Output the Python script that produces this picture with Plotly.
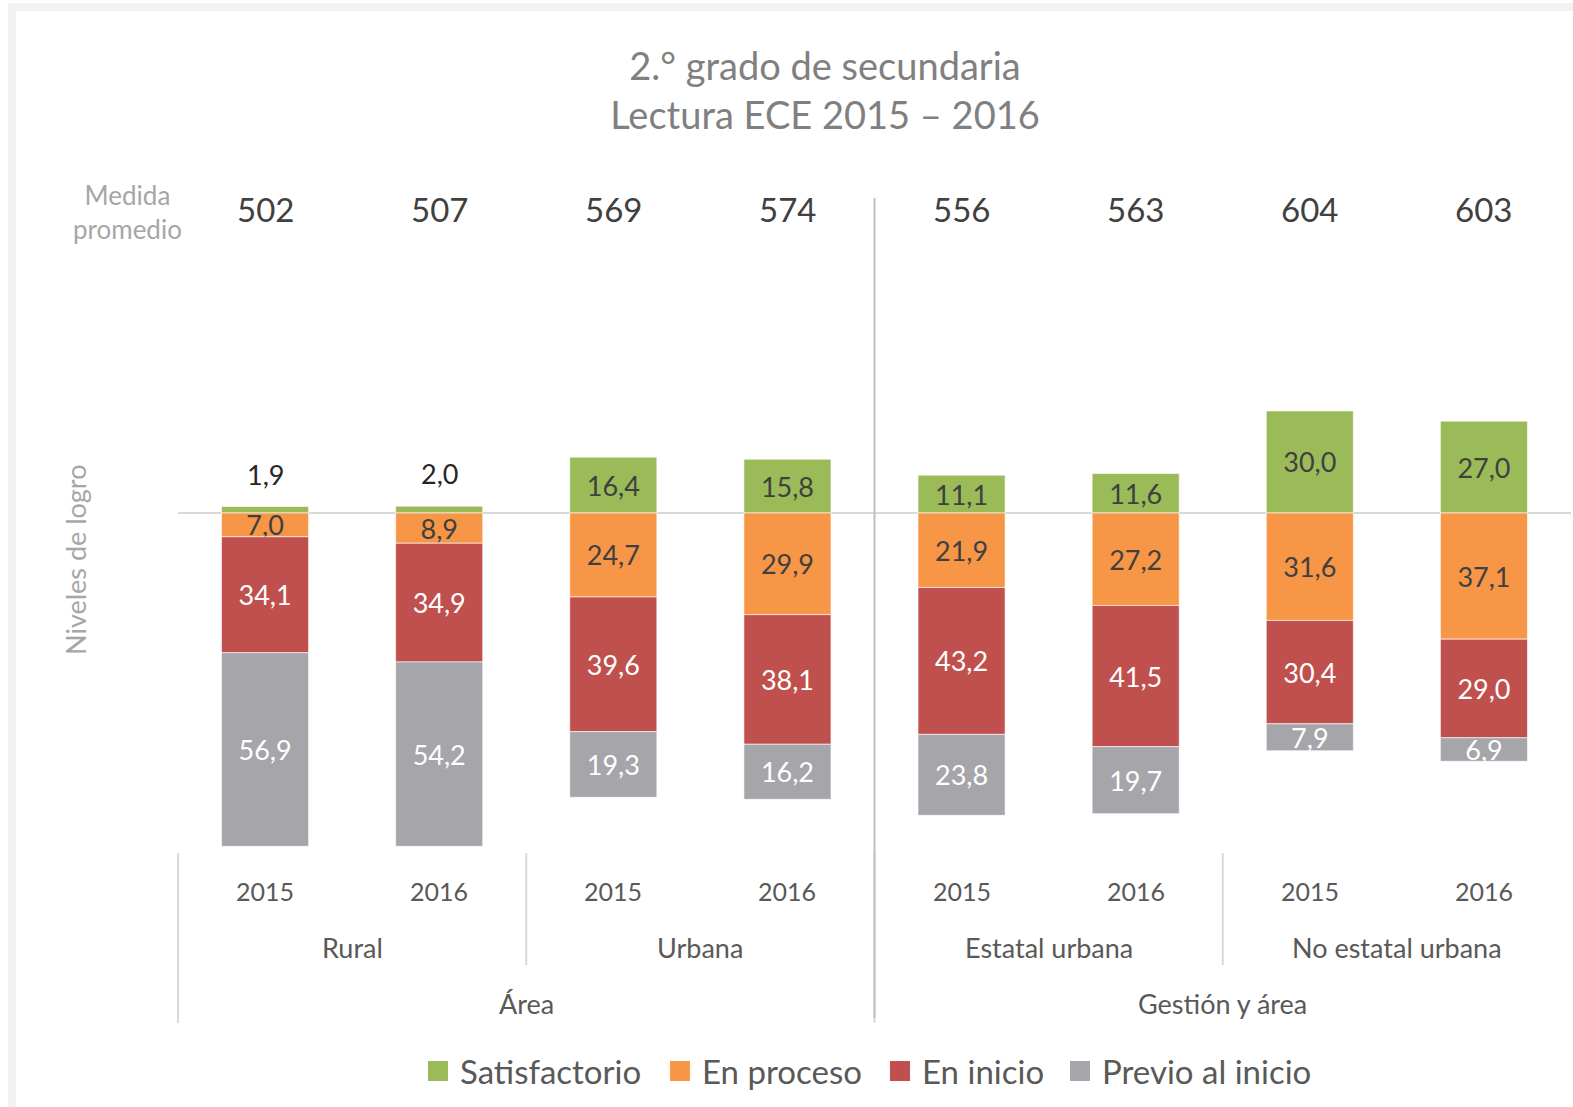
import plotly.graph_objects as go

# ---- data ----
years = ["2015", "2016", "2015", "2016", "2015", "2016", "2015", "2016"]
groups = ["Rural", "Urbana", "Estatal urbana", "No estatal urbana"]
sections = ["Área", "Gestión y área"]
medida_promedio = [502, 507, 569, 574, 556, 563, 604, 603]

satisfactorio = [1.9, 2.0, 16.4, 15.8, 11.1, 11.6, 30.0, 27.0]
en_proceso = [7.0, 8.9, 24.7, 29.9, 21.9, 27.2, 31.6, 37.1]
en_inicio = [34.1, 34.9, 39.6, 38.1, 43.2, 41.5, 30.4, 29.0]
previo = [56.9, 54.2, 19.3, 16.2, 23.8, 19.7, 7.9, 6.9]

series_names = ["Satisfactorio", "En proceso", "En inicio", "Previo al inicio"]
colors = ["#9BBB59", "#F79646", "#C0504D", "#A5A5AA"]
label_colors = ["#404040", "#404040", "#FFFFFF", "#FFFFFF"]

FONT = "Lato"
W, H = 1573, 1107
ML, MR, MT, MB = 178, 2, 198, 259
PW, PH = W - ML - MR, H - MT - MB


def fx(px):
    return (px - ML) / PW


def fy(py):
    return (H - MB - py) / PH


def fmt(v):
    return f"{v:.1f}".replace(".", ",")


x = list(range(len(years)))
fig = go.Figure()

# Satisfactorio stacks upward; the other levels stack downward from zero
values = [satisfactorio, en_proceso, en_inicio, previo]
for i, (name, vals) in enumerate(zip(series_names, values)):
    sign = 1 if i == 0 else -1
    texts = [fmt(v) for v in vals]
    if i == 0:
        # the thin rural bars carry their label above the bar instead
        texts = [t if v >= 5 else "" for t, v in zip(texts, vals)]
    fig.add_trace(go.Bar(
        x=x, y=[sign * v for v in vals], name=name,
        marker=dict(color=colors[i], line=dict(color="rgba(255,255,255,0.6)", width=1)),
        width=0.5, text=texts, textposition="inside", insidetextanchor="middle",
        textangle=0, constraintext="none",
        textfont=dict(family=FONT, size=27, color=label_colors[i]),
        showlegend=False, hoverinfo="skip",
    ))

ann = []
# labels above the thin Satisfactorio bars
for xi, v in zip(x, satisfactorio):
    if v < 5:
        ann.append(dict(x=xi, y=v, xref="x", yref="y", text=fmt(v), showarrow=False,
                        yanchor="bottom", yshift=14,
                        font=dict(family=FONT, size=27, color="#262626")))

# average scale score row
for xi, m in zip(x, medida_promedio):
    ann.append(dict(x=xi, y=fy(209), xref="x", yref="paper", text=str(m), showarrow=False,
                    xanchor="center", yanchor="middle",
                    font=dict(family=FONT, size=33, color="#404040")))
ann.append(dict(x=fx(127), y=fy(212), xref="paper", yref="paper", text="Medida<br>promedio",
                xanchor="center", yanchor="middle", showarrow=False,
                font=dict(family=FONT, size=26, color="#A6A6A6")))

# y-axis caption
ann.append(dict(x=fx(75), y=fy(560), xref="paper", yref="paper", text="Niveles de logro",
                xanchor="center", yanchor="middle", textangle=-90, showarrow=False,
                font=dict(family=FONT, size=27, color="#A6A6A6")))

# three-level category axis
for xi, yr in zip(x, years):
    ann.append(dict(x=xi, y=fy(891), xref="x", yref="paper", text=yr, showarrow=False,
                    xanchor="center", yanchor="middle",
                    font=dict(family=FONT, size=25, color="#595959")))
for gi, g in enumerate(groups):
    ann.append(dict(x=2 * gi + 0.5, y=fy(947), xref="x", yref="paper", text=g, showarrow=False,
                    xanchor="center", yanchor="middle",
                    font=dict(family=FONT, size=27, color="#595959")))
for si, s in enumerate(sections):
    ann.append(dict(x=4 * si + 1.5, y=fy(1003), xref="x", yref="paper", text=s, showarrow=False,
                    xanchor="center", yanchor="middle",
                    font=dict(family=FONT, size=27, color="#595959")))

shapes = []
div_col = "#D9D9D9"
for b, bottom in [(-0.5, 1023), (1.5, 965), (3.5, 1023), (5.5, 965)]:
    xp = (b + 0.5) / len(years)
    shapes.append(dict(type="line", xref="paper", yref="paper", x0=xp, x1=xp,
                       y0=fy(853), y1=fy(bottom), line=dict(color=div_col, width=2)))
# separator between the two sections
xs = 4 / len(years)
shapes.append(dict(type="line", xref="paper", yref="paper", x0=xs, x1=xs,
                   y0=fy(198), y1=fy(1018), line=dict(color="#BFBFBF", width=2)))

# outer frame
shapes.append(dict(type="rect", xref="paper", yref="paper", x0=fx(12), x1=fx(1700),
                   y0=fy(1300), y1=fy(7), line=dict(color="#F2F2F2", width=8),
                   fillcolor="rgba(0,0,0,0)"))

# legend
legend_items = [(428, 458), (670, 700), (890, 920), (1070, 1100)]
for (sq, tx), name, col in zip(legend_items, series_names, colors):
    shapes.append(dict(type="rect", xref="paper", yref="paper", x0=fx(sq), x1=fx(sq + 20),
                       y0=fy(1081), y1=fy(1061), fillcolor=col, line=dict(width=0)))
    ann.append(dict(x=fx(tx), y=fy(1071), xref="paper", yref="paper", text=name,
                    xanchor="left", yanchor="middle", showarrow=False,
                    font=dict(family=FONT, size=33, color="#595959")))

fig.update_layout(
    width=W, height=H,
    margin=dict(l=ML, r=MR, t=MT, b=MB),
    paper_bgcolor="white", plot_bgcolor="white",
    barmode="relative",
    title=dict(text="2.° grado de secundaria<br>Lectura ECE 2015 – 2016",
               x=825 / W, xanchor="center", y=1 - 80 / H, yanchor="middle",
               font=dict(family=FONT, size=38, color="#808080")),
    xaxis=dict(range=[-0.5, len(years) - 0.5], showticklabels=False, showgrid=False,
               zeroline=False, showline=False, ticks=""),
    yaxis=dict(range=[-98.5, 92.6], showticklabels=False, showgrid=False,
               zeroline=True, zerolinecolor="#D9D9D9", zerolinewidth=2, showline=False),
    annotations=ann, shapes=shapes,
)

fig.write_html("out.html")
